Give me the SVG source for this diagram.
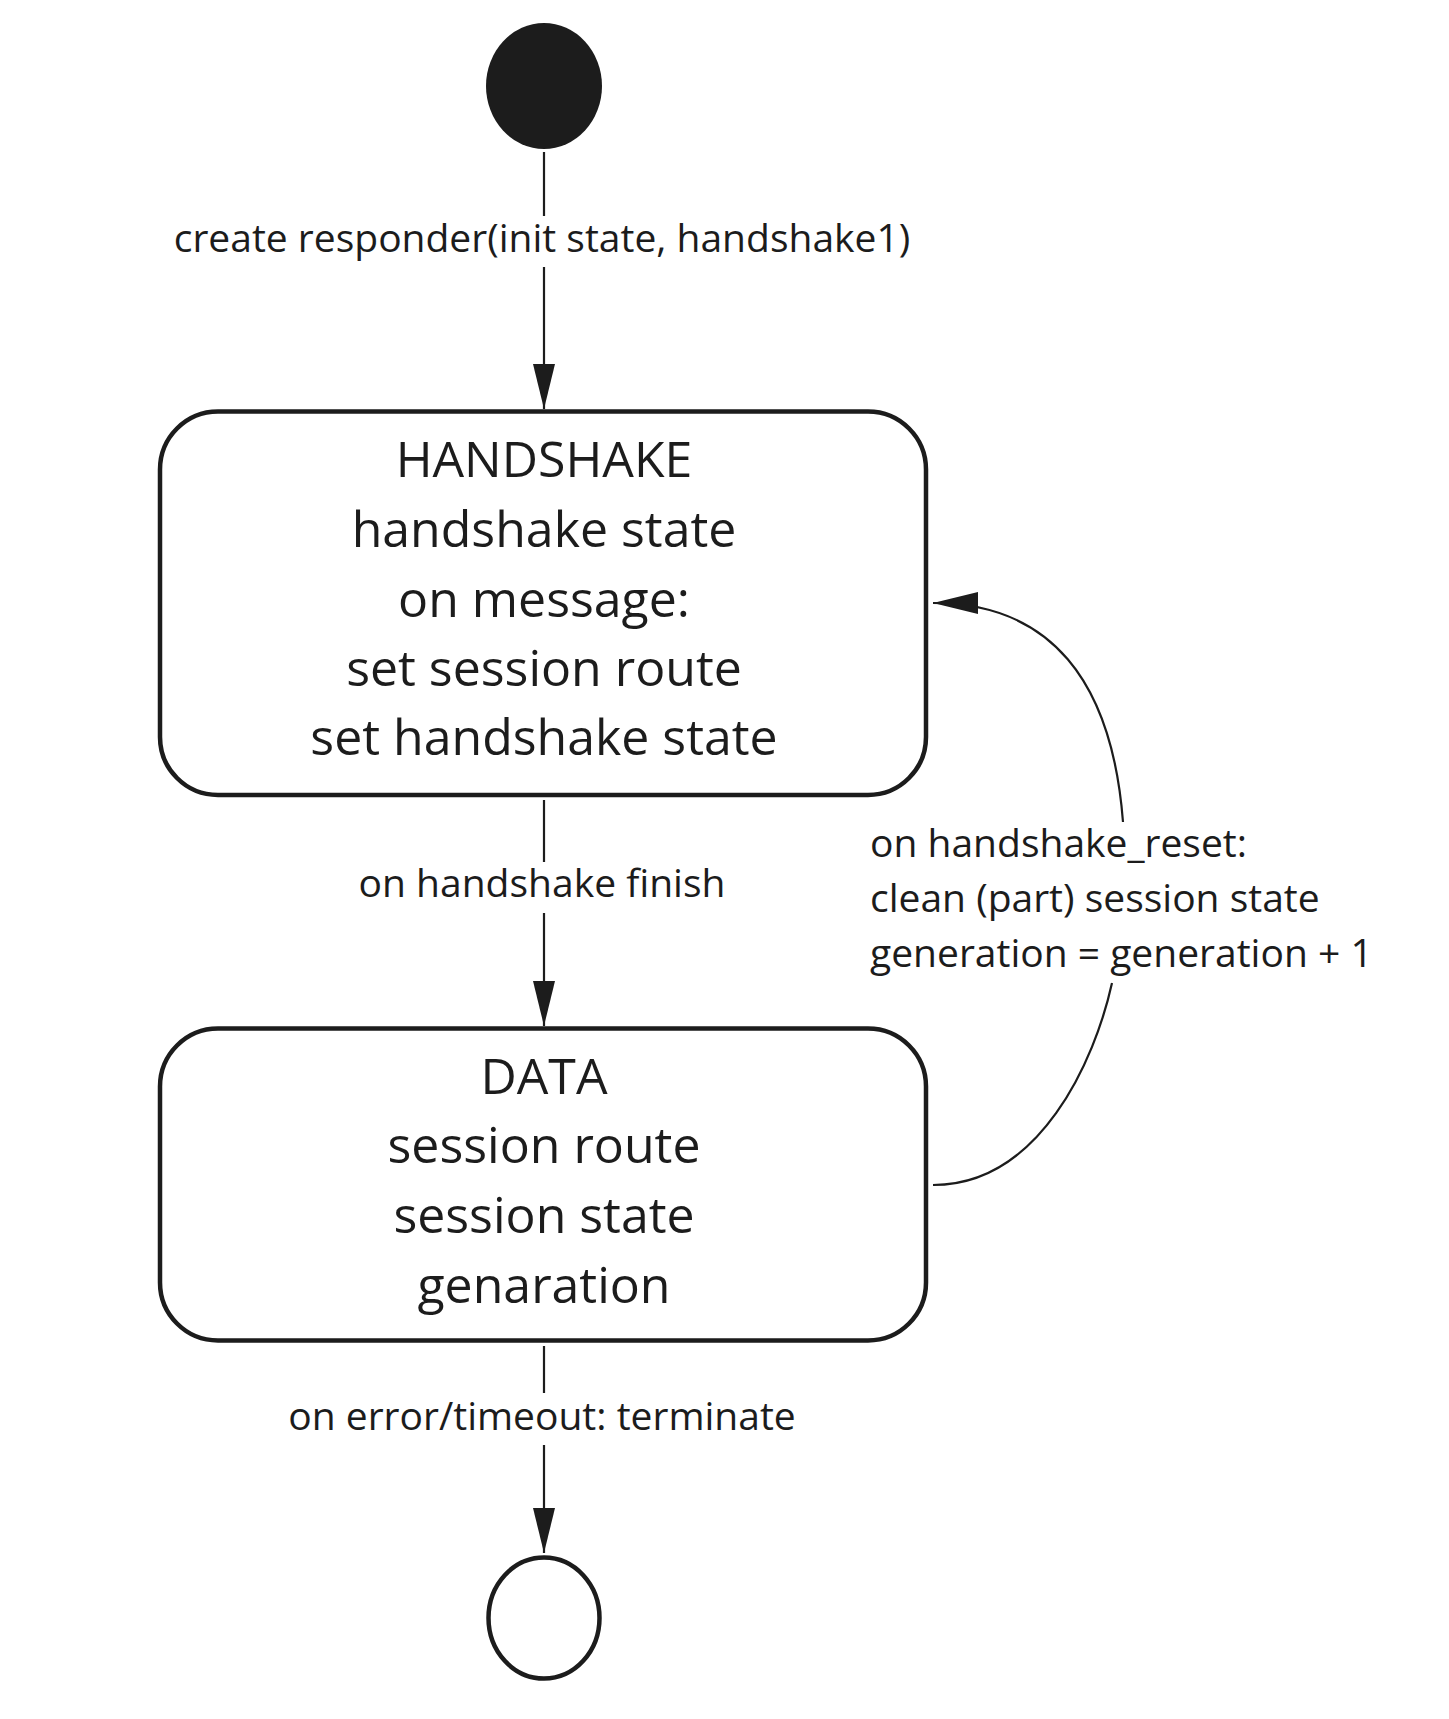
<svg xmlns="http://www.w3.org/2000/svg" width="1449" height="1719" viewBox="0 0 1449 1719">
<style>
.node{fill:#ffffff;stroke:#1c1c1c;stroke-width:4.5}
.start{fill:#1c1c1c;stroke:none}
.edge{fill:none;stroke:#1c1c1c;stroke-width:2.2}
.big{font-family:"Open Sans","Noto Sans","DejaVu Sans",sans-serif;font-size:50px;fill:#1c1c1c;text-anchor:middle}
.lbl{font-family:"Open Sans","Noto Sans","DejaVu Sans",sans-serif;font-size:39px;fill:#1c1c1c}
.mid{text-anchor:middle}
</style>
<defs>
<marker id="arr" markerUnits="userSpaceOnUse" markerWidth="46" markerHeight="24" viewBox="0 0 46 24" refX="45" refY="12" orient="auto">
<path d="M0 1 L45 12 L0 23 Z" fill="#1c1c1c"/>
</marker>
</defs>
<rect width="1449" height="1719" fill="#ffffff"/>
<g id="connectors">
<path class="edge" d="M544 152 V216 M544 267 V409" marker-end="url(#arr)"/>
<text class="lbl mid" x="542" y="252">create responder(init state, handshake1)</text>
<path class="edge" d="M544 800 V862 M544 913 V1026" marker-end="url(#arr)"/>
<text class="lbl mid" x="542" y="897">on handshake finish</text>
<path class="edge" d="M544 1346 V1393 M544 1445 V1553" marker-end="url(#arr)"/>
<text class="lbl mid" x="542" y="1430">on error/timeout: terminate</text>
<path class="edge" d="M933 1185 C1040 1185 1095 1060 1112 983 M1123 822 C1112 680 1050 603 933 603" marker-end="url(#arr)"/>
<text class="lbl" x="870" y="857">on handshake_reset:</text>
<text class="lbl" x="870" y="912">clean (part) session state</text>
<text class="lbl" x="870" y="967">generation = generation + 1</text>
</g>
<g id="initial">
<ellipse class="start" cx="544" cy="86" rx="58" ry="63"/>
</g>
<g id="handshake">
<rect class="node" x="160" y="411.5" width="766" height="383.5" rx="58" ry="58"/>
<text class="big" x="544" y="477">HANDSHAKE</text>
<text class="big" x="544" y="547">handshake state</text>
<text class="big" x="544" y="617">on message:</text>
<text class="big" x="544" y="686">set session route</text>
<text class="big" x="544" y="755">set handshake state</text>
</g>
<g id="data">
<rect class="node" x="160" y="1028.5" width="766" height="312" rx="58" ry="58"/>
<text class="big" x="544" y="1094">DATA</text>
<text class="big" x="544" y="1163">session route</text>
<text class="big" x="544" y="1233">session state</text>
<text class="big" x="544" y="1303">genaration</text>
</g>
<g id="final">
<ellipse class="node" cx="544" cy="1618" rx="55.5" ry="60.5"/>
</g>
</svg>
